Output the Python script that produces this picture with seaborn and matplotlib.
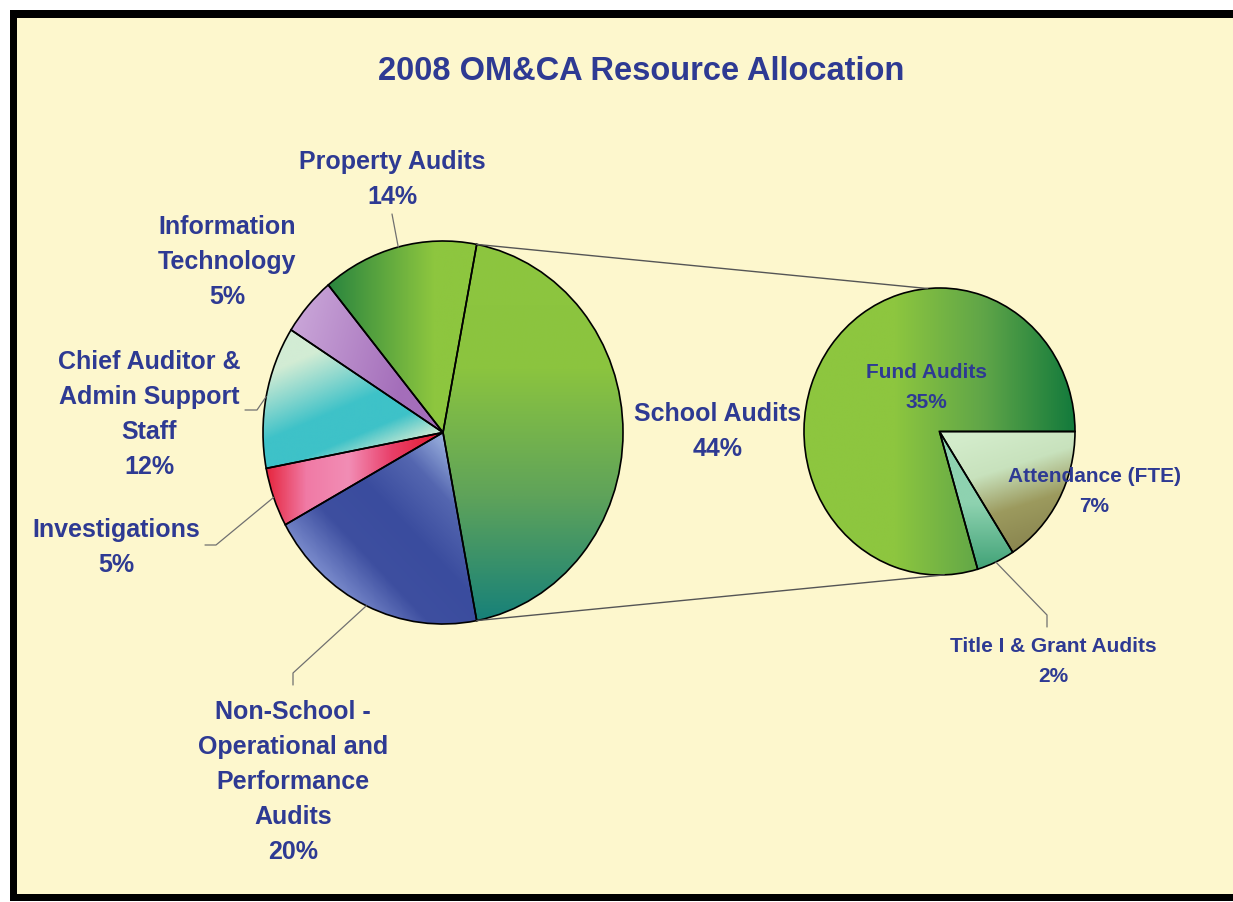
"""
2008 OM&CA Resource Allocation - pie of pie chart
"""

import numpy as np
import seaborn as sns
import matplotlib.pyplot as plt
from matplotlib.patches import Rectangle

# Data
main_labels = ["School Audits", "Property Audits", "Information\nTechnology",
               "Chief Auditor &\nAdmin Support\nStaff", "Investigations",
               "Non-School -\nOperational and\nPerformance\nAudits"]
main_values = [44, 14, 5, 12, 5, 20]

sub_labels = ["Fund Audits", "Title I & Grant Audits", "Attendance (FTE)"]
sub_values = [35, 2, 7]

title = "2008 OM&CA Resource Allocation"

# Style / layout
sns.set_theme(style="white")
plt.rcParams["font.family"] = ["Liberation Sans", "DejaVu Sans"]

W, H = 1233, 902
BG = "#FDF7CD"
TXT = "#2E3A93"
LEAD = "#707070"

# gradient per wedge: colours, (coef_x, coef_y), (lo, hi)
main_grad = [
    (["#8DC63F", "#8BC43F", "#5FA35A", "#15807A"], (0, -1), (-1.0, 1.0)),
    (["#1F7E3E", "#8DC63F"], (1, 0), (-0.7, -0.05)),
    (["#A46EBA", "#C9A5D8"], (-1, 0.3), (0.3, 1.0)),
    (["#D2ECD4", "#3EC2C8", "#3EC2C8", "#8AD7CE", "#D2ECD4"], (-0.4, 1), (0.0, 0.7)),
    (["#E51F36", "#F07AA5", "#F28DB5", "#E9406A", "#E51F36"], (1, 0), (-1.0, -0.05)),
    (["#7F90D0", "#3E4FA0", "#3A4C9E", "#5466B0", "#A9C0E8"], (1, 1), (-1.45, 0.05)),
]
sub_grad = [
    (["#8DC63F", "#8DC63F", "#5FA548", "#137A3C"], (1, 0), (-1.0, 1.0)),
    (["#8ED2B0", "#3A9E72"], (0, -1), (0.5, 1.0)),
    (["#D3ECCB", "#C8E2BD", "#9C9A5E", "#8A8650"], (0.3, -1), (0.1, 1.0)),
]

# label positions: centre x, cap-top y (pixels)
main_pos = [(718, 402), (392, 150), (227, 215), (149, 350), (116, 518), (293, 700)]
sub_pos = [(926, 363), (1053, 637), (1094, 467)]

# leader lines: label-side start, elbow (pixels); None = no leader
main_lead = [None, ((392, 214), (392, 214)), None, ((245, 410), (257, 410)),
             ((205, 545), (216, 545)), ((293, 685), (293, 673))]
sub_lead = [None, ((1047, 627), (1047, 615)), None]


def px_rect(x0, y0, x1, y1):
    return [x0 / W, 1 - y1 / H, (x1 - x0) / W, (y1 - y0) / H]


def draw_pie(ax, values, grads, startangle):
    wedges, _ = ax.pie(values, startangle=startangle, counterclock=True,
                       radius=1, center=(0, 0),
                       wedgeprops=dict(edgecolor="black", linewidth=1.2))
    g = np.linspace(-1.05, 1.05, 400)
    X, Y = np.meshgrid(g, g)
    for w, (cols, (cx, cy), (lo, hi)) in zip(wedges, grads):
        cmap = sns.blend_palette(cols, as_cmap=True)
        img = ax.imshow(cx * X + cy * Y, extent=(-1.05, 1.05, -1.05, 1.05),
                        origin="lower", cmap=cmap, vmin=lo, vmax=hi,
                        aspect="auto", interpolation="bilinear", zorder=1)
        img.set_clip_path(w)
        w.set_facecolor("none")
        w.set_zorder(2)
        w.set_clip_on(False)
    ax.set_aspect("auto")
    ax.set_xlim(-1, 1)
    ax.set_ylim(-1, 1)
    ax.axis("off")
    return wedges


fig = plt.figure(figsize=(W / 100, H / 100), dpi=100, facecolor="white")

bg = fig.add_axes([0, 0, 1, 1], zorder=0)
bg.set_xlim(0, W)
bg.set_ylim(H, 0)
bg.axis("off")
bg.add_patch(Rectangle((10, 10), W, 891, facecolor="black", edgecolor="none"))
bg.add_patch(Rectangle((17, 18), W, 876, facecolor=BG, edgecolor="none"))

ax_main = fig.add_axes(px_rect(263, 241, 623, 624), zorder=1)
ax_sub = fig.add_axes(px_rect(804, 288, 1075, 575), zorder=1)

main_start = -main_values[0] / sum(main_values) * 180
main_w = draw_pie(ax_main, main_values, main_grad, main_start)
sub_w = draw_pie(ax_sub, sub_values, sub_grad, 0)

ov = fig.add_axes([0, 0, 1, 1], zorder=3)
ov.set_xlim(0, W)
ov.set_ylim(H, 0)
ov.axis("off")
ov.patch.set_alpha(0)

ov.text(641, 56, title, ha="center", va="top", fontsize=23.5,
        fontweight="bold", color=TXT)


def to_px(ax, ang):
    pt = (np.cos(np.radians(ang)), np.sin(np.radians(ang)))
    return ov.transData.inverted().transform(ax.transData.transform(pt))


# connector lines between the two pies
school = main_w[0]
for a_main, a_sub in [(school.theta2, 95), (school.theta1, -88)]:
    p1 = to_px(ax_main, a_main)
    p2 = to_px(ax_sub, a_sub)
    ov.plot([p1[0], p2[0]], [p1[1], p2[1]], color="#555555", lw=1)


def label_pie(ax, wedges, labels, values, pos, leads, size, spacing):
    for w, lab, v, (x, y), lead in zip(wedges, labels, values, pos, leads):
        ov.text(x, y, f"{lab}\n{v}%", ha="center", va="top", fontsize=size,
                fontweight="bold", color=TXT, linespacing=spacing)
        if lead is not None:
            end = to_px(ax, (w.theta1 + w.theta2) / 2)
            xs = [lead[0][0], lead[1][0], end[0]]
            ys = [lead[0][1], lead[1][1], end[1]]
            ov.plot(xs, ys, color=LEAD, lw=0.9)


label_pie(ax_main, main_w, main_labels, main_values, main_pos, main_lead, 18, 1.58)
label_pie(ax_sub, sub_w, sub_labels, sub_values, sub_pos, sub_lead, 15, 1.76)

fig.savefig("out.png", dpi=100, facecolor=fig.get_facecolor())
